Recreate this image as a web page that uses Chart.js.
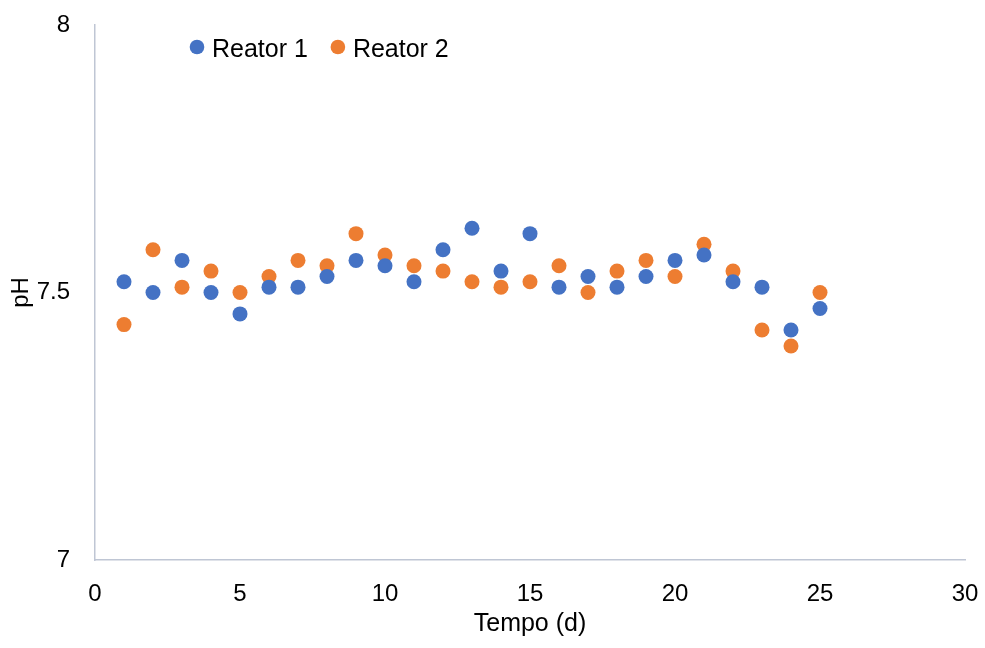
<!DOCTYPE html>
<html>
<head>
<meta charset="utf-8">
<script src="https://cdn.jsdelivr.net/npm/chart.js@4/dist/chart.umd.min.js"></script>
<style>
  html, body { margin: 0; padding: 0; background: #fff; }
  #wrap { width: 985px; height: 648px; position: relative; }
</style>
</head>
<body>
<div id="wrap"><canvas id="c" width="985" height="648"></canvas></div>
<script>
// Sampling days and pH measured in each reactor
const days = [1, 2, 3, 4, 5, 6, 7, 8, 9, 10, 11, 12, 13, 14, 15, 16, 17, 18, 19, 20, 21, 22, 23, 24, 25];
const reator1 = [7.52, 7.50, 7.56, 7.50, 7.46, 7.51, 7.51, 7.53, 7.56, 7.55, 7.52, 7.58, 7.62, 7.54, 7.61, 7.51, 7.53, 7.51, 7.53, 7.56, 7.57, 7.52, 7.51, 7.43, 7.47];
const reator2 = [7.44, 7.58, 7.51, 7.54, 7.50, 7.53, 7.56, 7.55, 7.61, 7.57, 7.55, 7.54, 7.52, 7.51, 7.52, 7.55, 7.50, 7.54, 7.56, 7.53, 7.59, 7.54, 7.43, 7.40, 7.50];
const seriesNames = ['Reator 1', 'Reator 2'];
const xTicks = [0, 5, 10, 15, 20, 25, 30];
const yTicks = [7, 7.5, 8];

const FONT = "'Liberation Sans', Arial, sans-serif";
const AXIS_COLOR = '#BFC6D4';

const toPoints = (vals) => days.map((d, i) => ({ x: d, y: vals[i] }));

// Legend drawn inside the plot area, near its top-left corner
const innerLegend = {
  id: 'innerLegend',
  afterDraw(chart) {
    const { ctx } = chart;
    ctx.save();
    ctx.font = '25px ' + FONT;
    ctx.textBaseline = 'alphabetic';
    let x = 197;
    const y = 47;
    chart.data.datasets.forEach((ds) => {
      ctx.beginPath();
      ctx.arc(x, y, 7.3, 0, Math.PI * 2);
      ctx.fillStyle = ds.backgroundColor;
      ctx.fill();
      ctx.fillStyle = '#000';
      ctx.fillText(ds.label, x + 15, 56.5);
      x += 15 + ctx.measureText(ds.label).width + 30;
    });
    ctx.restore();
  }
};

new Chart(document.getElementById('c'), {
  type: 'scatter',
  data: {
    datasets: [
      {
        label: seriesNames[0],
        data: toPoints(reator1),
        backgroundColor: '#4472C4',
        borderColor: '#4472C4',
        pointRadius: 7.5,
        pointHoverRadius: 7.5,
        borderWidth: 0
      },
      {
        label: seriesNames[1],
        data: toPoints(reator2),
        backgroundColor: '#ED7D31',
        borderColor: '#ED7D31',
        pointRadius: 7.5,
        pointHoverRadius: 7.5,
        borderWidth: 0
      }
    ]
  },
  options: {
    responsive: false,
    animation: false,
    layout: { padding: { top: 25, right: 20, left: 0, bottom: 0 } },
    plugins: {
      legend: { display: false },
      tooltip: { enabled: false }
    },
    scales: {
      x: {
        type: 'linear',
        min: 0,
        max: 30,
        afterBuildTicks(scale) { scale.ticks = xTicks.map(v => ({ value: v })); },
        afterFit(scale) {
          scale.height = 88;
          scale.paddingLeft = 0;
          scale.paddingRight = 0;
        },
        grid: { display: false, drawTicks: false },
        border: { display: true, color: AXIS_COLOR, width: 1.5 },
        ticks: { color: '#000', font: { family: FONT, size: 24 }, padding: 20, maxRotation: 0 },
        title: {
          display: true,
          text: 'Tempo (d)',
          color: '#000',
          font: { family: FONT, size: 25 },
          padding: { top: 0, bottom: 9 }
        }
      },
      y: {
        type: 'linear',
        min: 7,
        max: 8,
        afterBuildTicks(scale) { scale.ticks = yTicks.map(v => ({ value: v })); },
        afterFit(scale) {
          scale.width = 95;
          scale.paddingTop = 0;
          scale.paddingBottom = 0;
        },
        grid: { display: false, drawTicks: false },
        border: { display: true, color: AXIS_COLOR, width: 1.5 },
        ticks: {
          color: '#000',
          font: { family: FONT, size: 24 },
          padding: 25,
          callback: (v) => String(v)
        },
        title: {
          display: true,
          text: 'pH',
          color: '#000',
          font: { family: FONT, size: 24 },
          padding: { top: 7, bottom: 0 }
        }
      }
    }
  },
  plugins: [innerLegend]
});
</script>
</body>
</html>
